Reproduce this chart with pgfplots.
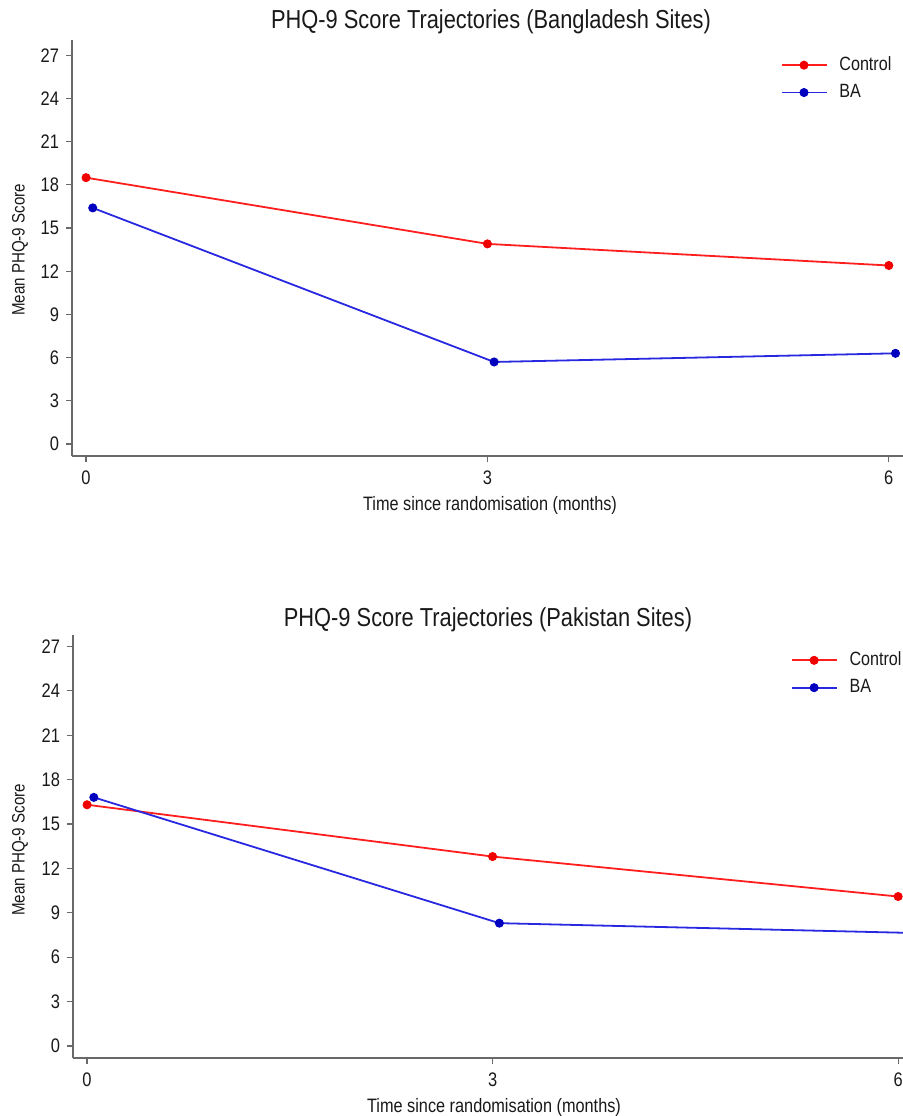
\documentclass[border=0pt]{standalone}
\usepackage{fontspec}
\setmainfont[FakeStretch=0.84]{Liberation Sans}
\usepackage{pgfplots}
\pgfplotsset{compat=1.18}
\definecolor{ctrlred}{RGB}{255,30,30}
\definecolor{ctrlmark}{RGB}{240,0,0}
\definecolor{baline}{RGB}{40,40,225}
\definecolor{bamark}{RGB}{0,0,190}
\definecolor{axgray}{RGB}{105,105,105}
\definecolor{txt}{RGB}{25,25,25}
\pgfplotsset{
  phq/.style={scale only axis, anchor=south west,
    axis x line*=bottom, axis y line*=left,
    axis line style={axgray, line width=0.75pt},
    tick align=outside, major tick length=3pt,
    tick style={axgray, line width=0.6pt},
    xtick={0,3,6}, ytick={0,3,...,27},
    ticklabel style={font=\fontsize{9.8}{10}\selectfont, text=txt},
    /pgf/number format/assume math mode=true,
    xticklabel style={yshift=-1pt},
    legend style={draw=none, fill=none, font=\fontsize{9.6}{10}\selectfont, text=txt,
      row sep=1.4pt, cells={anchor=west}, anchor=north west},
    legend image code/.code={\draw[mark repeat=2,mark phase=2,##1] plot coordinates {(0pt,0pt) (11.25pt,0pt) (22.5pt,0pt)};
      \path (26.5pt,0pt);},
  },
  ctrl/.style={ctrlred, line width=0.9pt, mark=*, mark size=2pt, mark options={fill=ctrlmark, draw=ctrlmark, line width=0.5pt}},
  ba/.style={baline, line width=0.9pt, mark=*, mark size=2pt, mark options={fill=bamark, draw=bamark, line width=0.5pt}},
}
\begin{document}
\begin{tikzpicture}
\useasboundingbox (0,0) rectangle (451.5pt,558pt);
% top panel: Bangladesh
\begin{axis}[phq, at={(36pt,330pt)}, width=415.5pt, height=208pt,
  xmin=-0.105, xmax=6.106, ymin=-0.83, ymax=28.06,
  legend style={at={(0.845,0.98)}}]
  \addplot[ctrl] coordinates {(0,18.5) (3,13.9) (6,12.4)};
  \addlegendentry{Control}
  \addplot[ba] coordinates {(0.05,16.4) (3.05,5.7) (6.05,6.3)};
  \addlegendentry{BA}
\end{axis}
% bottom panel: Pakistan
\begin{axis}[phq, at={(36.5pt,29pt)}, width=415pt, height=211.5pt,
  xmin=-0.104, xmax=6.036, ymin=-0.81, ymax=27.77,
  legend style={at={(0.857,0.98)}}]
  \addplot[ctrl] coordinates {(0,16.3) (3,12.8) (6,10.1)};
  \addlegendentry{Control}
  \addplot[ba] coordinates {(0.05,16.8) (3.05,8.3) (6.05,7.65)};
  \addlegendentry{BA}
\end{axis}
\node[text=txt, font=\fontsize{13}{14}\selectfont] at (245.5pt,547pt) {PHQ-9 Score Trajectories (Bangladesh Sites)};
\node[text=txt, font=\fontsize{13}{14}\selectfont] at (244pt,248pt) {PHQ-9 Score Trajectories (Pakistan Sites)};
\node[text=txt, font=\fontsize{9.7}{10}\selectfont] at (245pt,305.5pt) {Time since randomisation (months)};
\node[text=txt, font=\fontsize{9.7}{10}\selectfont] at (247pt,4.5pt) {Time since randomisation (months)};
\node[text=txt, font=\fontsize{9}{10}\selectfont, rotate=90] at (10pt,433pt) {Mean PHQ-9 Score};
\node[text=txt, font=\fontsize{9}{10}\selectfont, rotate=90] at (10pt,133pt) {Mean PHQ-9 Score};
\end{tikzpicture}
\end{document}
